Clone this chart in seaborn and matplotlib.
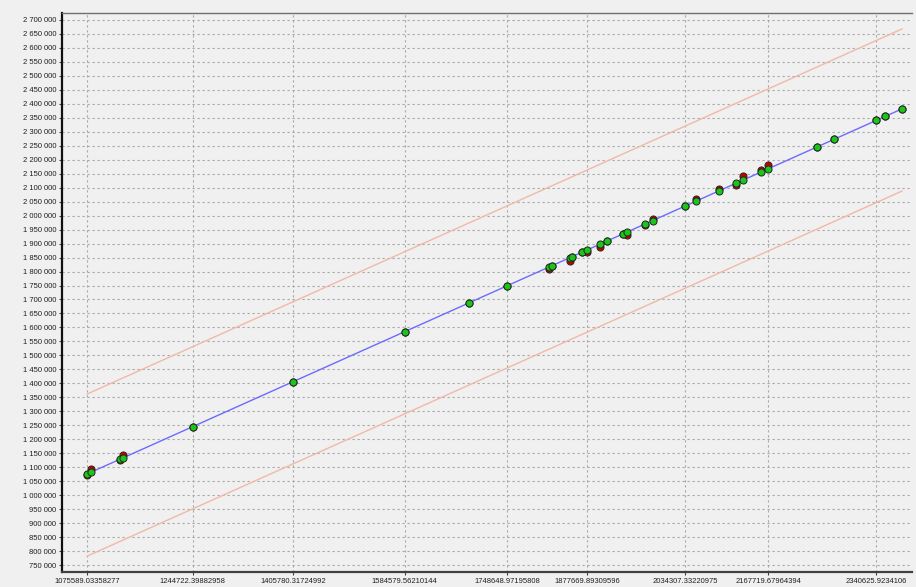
import numpy as np
import pandas as pd
import matplotlib
matplotlib.use("Agg")
import matplotlib.pyplot as plt
import seaborn as sns

# ── Data ──────────────────────────────────────────────────────
predicted = [1075589.03358277, 1082000, 1128500, 1133300, 1244722.39882958,
             1405780.31724992, 1584579.56210144, 1688000, 1748648.97195808,
             1816300, 1821100, 1849000, 1853800, 1869800, 1877669.89309596,
             1897100, 1909900, 1934000, 1940400, 1969300, 1982100,
             2034307.33220975, 2052000, 2088900, 2116100, 2127400, 2156200,
             2167719.67964394, 2246000, 2273300, 2340625.9234106, 2355000,
             2382300]
actual = [1073600, 1092700, 1126500, 1144000, 1244700,
          1405800, 1584600, 1688000, 1748600,
          1809200, 1818100, 1838300, 1853800, 1869800, 1870600,
          1886400, 1909900, 1934000, 1929700, 1966300, 1989200,
          2034300, 2059100, 2096000, 2109000, 2141600, 2163300,
          2181900, 2246000, 2273300, 2340600, 2355000,
          2382300]
upper_offset = 286000
lower_offset = -294000

x_ticks = [1075589.03358277, 1244722.39882958, 1405780.31724992,
           1584579.56210144, 1748648.97195808, 1877669.89309596,
           2034307.33220975, 2167719.67964394, 2340625.9234106]
x_tick_labels = ["1075589.03358277", "1244722.39882958", "1405780.31724992",
                 "1584579.56210144", "1748648.97195808", "1877669.89309596",
                 "2034307.33220975", "2167719.67964394", "2340625.9234106"]
y_ticks = list(range(750000, 2700001, 50000))

df = pd.DataFrame({"predicted": predicted, "actual": actual})
df["upper"] = df["predicted"] + upper_offset
df["lower"] = df["predicted"] + lower_offset

# ── Style ─────────────────────────────────────────────────────
bg = "#f0f0f0"
sns.set_style("ticks", rc={"axes.facecolor": bg, "figure.facecolor": bg})
plt.rcParams["font.family"] = ["Liberation Sans", "DejaVu Sans"]

fig = plt.figure(figsize=(9.16, 5.87), dpi=100)
ax = fig.add_axes([62 / 916, 15 / 587, 850 / 916, 559 / 587])

sns.lineplot(data=df, x="predicted", y="upper", ax=ax, color="#f2b8a8",
             lw=1, zorder=2)
sns.lineplot(data=df, x="predicted", y="lower", ax=ax, color="#f2b8a8",
             lw=1, zorder=2)
sns.lineplot(data=df, x="predicted", y="predicted", ax=ax, color="#6b6bff",
             lw=1, zorder=3)
sns.scatterplot(data=df, x="predicted", y="actual", ax=ax, color="#c80000",
                edgecolor="#302020", linewidth=0.7, s=26, zorder=4)
sns.scatterplot(data=df, x="predicted", y="predicted", ax=ax, color="#1cc41c",
                edgecolor="#1a2a1a", linewidth=0.7, s=26, zorder=5)

ax.set_xlim(1035500, 2398000)
ax.set_ylim(725000, 2725000)
ax.set_xticks(x_ticks)
ax.set_xticklabels(x_tick_labels)
ax.set_yticks(y_ticks)
ax.set_yticklabels([f"{v:,}".replace(",", " ") for v in y_ticks])
ax.tick_params(axis="both", labelsize=5.5, length=2.5, width=0.8,
               color="#404040", labelcolor="#202020", pad=1.5)

ax.grid(True, color="#a8a8a8", linestyle=(0, (2, 2.5)), linewidth=0.8)
ax.set_axisbelow(True)
ax.set_xlabel("")
ax.set_ylabel("")

ax.spines["left"].set_linewidth(1.6)
ax.spines["left"].set_color("#101010")
ax.spines["bottom"].set_linewidth(1.6)
ax.spines["bottom"].set_color("#404040")
ax.spines["top"].set_visible(True)
ax.spines["top"].set_color("#707070")
ax.spines["top"].set_linewidth(1)
ax.spines["right"].set_visible(False)

fig.savefig("out.png", dpi=100)
